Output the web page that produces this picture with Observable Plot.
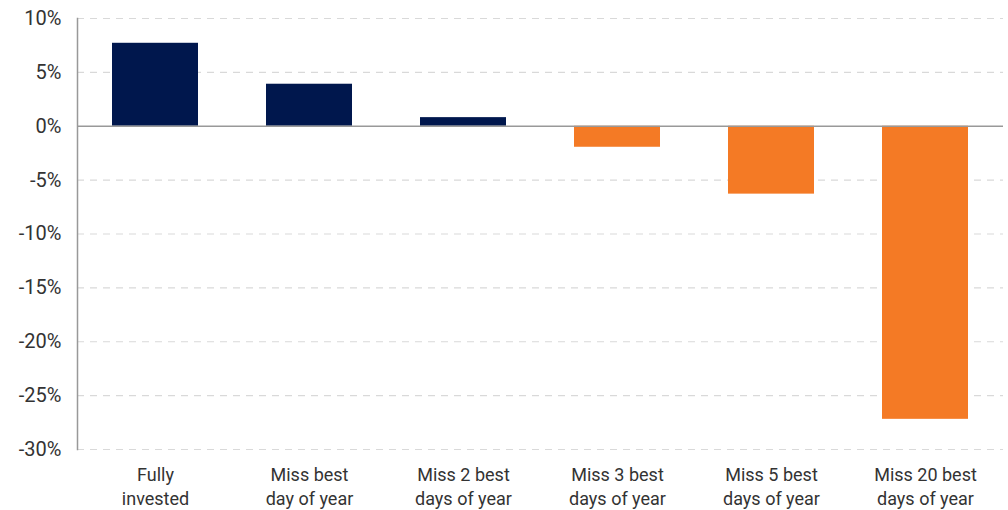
<!DOCTYPE html>
<html>
<head>
<meta charset="utf-8">
<script src="https://cdn.jsdelivr.net/npm/d3@7"></script>
<script src="https://cdn.jsdelivr.net/npm/@observablehq/plot@0.6"></script>
<style>
  html, body { margin: 0; padding: 0; background: #fff; }
  #chart { width: 1008px; height: 510px; }
</style>
</head>
<body>
<div id="chart"></div>
<script>
const categories = ["Fully invested", "Miss best day of year", "Miss 2 best days of year", "Miss 3 best days of year", "Miss 5 best days of year", "Miss 20 best days of year"];
const tickLabels = ["Fully\ninvested", "Miss best\nday of year", "Miss 2 best\ndays of year", "Miss 3 best\ndays of year", "Miss 5 best\ndays of year", "Miss 20 best\ndays of year"];
const values = [7.7, 3.9, 0.8, -1.95, -6.3, -27.2];
const yTicks = [-30, -25, -20, -15, -10, -5, 0, 5, 10];

const data = categories.map((c, i) => ({category: c, value: values[i], label: tickLabels[i]}));

const chart = Plot.plot({
  width: 1008,
  height: 510,
  marginTop: 18,
  marginBottom: 61,
  marginLeft: 77,
  marginRight: 5,
  style: {fontFamily: "Roboto, sans-serif", color: "#333", background: "#fff"},
  x: {domain: categories, paddingInner: 0.44, paddingOuter: 0.22, axis: null},
  y: {domain: [-30, 10], ticks: yTicks, tickFormat: d => d + "%", tickSize: 0, tickPadding: 16, label: null},
  marks: [
    Plot.ruleY(yTicks.filter(d => d !== 0), {stroke: "#d9d9d9", strokeDasharray: "7,6", strokeWidth: 1.2}),
    Plot.barY(data, {x: "category", y: "value", fill: d => d.value >= 0 ? "#00174d" : "#f47a25"}),
    Plot.ruleY([0], {stroke: "#999", strokeWidth: 1.5}),
    Plot.frame({anchor: "left", stroke: "#999", strokeWidth: 1.5}),
    Plot.text(data, {x: "category", text: "label", frameAnchor: "bottom", lineAnchor: "top", dy: 15, lineHeight: 1.3, fontSize: 18, fill: "#333"})
  ]
});
chart.querySelectorAll('g[aria-label="y-axis"] text, g[aria-label="y-axis tick label"] text').forEach(t => t.setAttribute("font-size", "20"));
chart.querySelectorAll('g[aria-label="y-axis"], g[aria-label="y-axis tick label"]').forEach(g => g.setAttribute("font-size", "20"));
document.getElementById("chart").appendChild(chart);
</script>
</body>
</html>
